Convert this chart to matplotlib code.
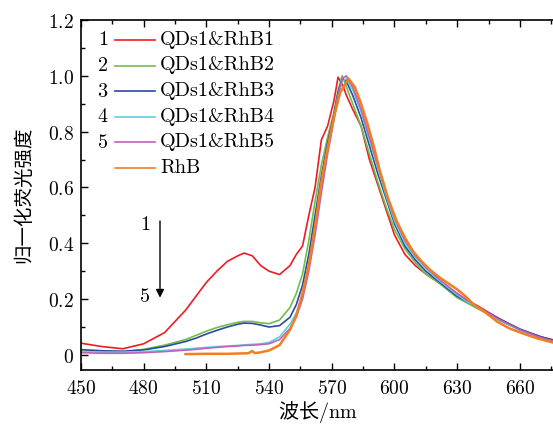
import matplotlib
matplotlib.use('Agg')
import matplotlib.pyplot as plt
from matplotlib.ticker import MultipleLocator, FuncFormatter

plt.rcParams['mathtext.fontset'] = 'cm'
plt.rcParams['font.family'] = ['Noto Sans CJK SC', 'DejaVu Sans']

# 波长 (nm), samples 1-5
wl = [450, 460, 470, 480, 490, 500, 505, 510, 515, 520, 525, 528, 532, 536, 540,
      545, 550, 553, 556, 559, 562, 565, 568, 571, 573, 575, 577, 580, 584, 588,
      592, 596, 600, 605, 610, 615, 620, 625, 630, 635, 640, 650, 660, 670, 677]

rhb1 = [0.042, 0.030, 0.022, 0.040, 0.080, 0.160, 0.210, 0.260, 0.300, 0.335, 0.355,
        0.365, 0.355, 0.320, 0.300, 0.288, 0.320, 0.360, 0.390, 0.500, 0.600, 0.770,
        0.820, 0.910, 0.995, 0.970, 0.930, 0.880, 0.820, 0.700, 0.610, 0.520, 0.430,
        0.360, 0.320, 0.290, 0.265, 0.245, 0.220, 0.195, 0.175, 0.130, 0.090, 0.065, 0.052]
rhb2 = [0.016, 0.012, 0.012, 0.020, 0.035, 0.055, 0.070, 0.085, 0.098, 0.108, 0.117,
        0.120, 0.120, 0.115, 0.112, 0.125, 0.170, 0.220, 0.290, 0.410, 0.550, 0.680,
        0.780, 0.870, 0.950, 1.000, 0.960, 0.900, 0.820, 0.720, 0.620, 0.530, 0.450,
        0.380, 0.330, 0.290, 0.265, 0.235, 0.205, 0.185, 0.165, 0.125, 0.090, 0.062, 0.048]
rhb3 = [0.019, 0.015, 0.013, 0.018, 0.030, 0.048, 0.060, 0.075, 0.088, 0.100, 0.110,
        0.114, 0.113, 0.107, 0.100, 0.105, 0.135, 0.180, 0.250, 0.360, 0.500, 0.640,
        0.760, 0.860, 0.940, 0.990, 0.980, 0.930, 0.850, 0.750, 0.650, 0.560, 0.470,
        0.390, 0.340, 0.300, 0.270, 0.240, 0.210, 0.190, 0.170, 0.130, 0.093, 0.065, 0.050]
rhb4 = [0.012, 0.010, 0.010, 0.012, 0.016, 0.021, 0.024, 0.027, 0.030, 0.032, 0.034,
        0.036, 0.038, 0.040, 0.045, 0.065, 0.110, 0.150, 0.220, 0.320, 0.450, 0.600,
        0.740, 0.850, 0.930, 0.980, 0.990, 0.950, 0.870, 0.770, 0.670, 0.570, 0.480,
        0.400, 0.350, 0.310, 0.275, 0.245, 0.215, 0.190, 0.170, 0.125, 0.088, 0.060, 0.045]
rhb5 = [0.008, 0.006, 0.006, 0.008, 0.012, 0.017, 0.020, 0.024, 0.027, 0.030, 0.032,
        0.034, 0.035, 0.037, 0.040, 0.055, 0.095, 0.135, 0.200, 0.300, 0.430, 0.580,
        0.720, 0.840, 0.930, 0.990, 1.000, 0.960, 0.880, 0.780, 0.680, 0.580, 0.490,
        0.410, 0.355, 0.315, 0.280, 0.250, 0.220, 0.195, 0.172, 0.127, 0.090, 0.062, 0.048]

# RhB alone
wl_rhb = [500, 510, 520, 530, 532, 533, 535, 540, 545, 550, 553, 556, 559, 562, 565,
          568, 571, 574, 576, 578, 581, 584, 587, 590, 593, 597, 601, 605, 609, 613,
          617, 622, 626, 630, 634, 638, 643, 649, 655, 661, 668, 677]
rhb = [0.003, 0.004, 0.004, 0.006, 0.014, 0.007, 0.008, 0.016, 0.035, 0.090, 0.140,
       0.220, 0.320, 0.460, 0.620, 0.740, 0.850, 0.940, 0.965, 0.990, 0.960, 0.900,
       0.830, 0.750, 0.660, 0.560, 0.480, 0.420, 0.370, 0.335, 0.305, 0.275, 0.255,
       0.235, 0.210, 0.180, 0.155, 0.120, 0.095, 0.078, 0.060, 0.042]

labels = ['QDs1&RhB1', 'QDs1&RhB2', 'QDs1&RhB3', 'QDs1&RhB4', 'QDs1&RhB5', 'RhB']
numbers = ['1', '2', '3', '4', '5', '']
colors = ['#ec1c24', '#6dbf4b', '#2b4aa0', '#5dd0e0', '#c060bc', '#f47d20']

fig = plt.figure(figsize=(5.53, 4.26), dpi=100)
ax = fig.add_axes([81 / 553, 56 / 426, 474 / 553, 350 / 426])

series = [rhb1, rhb2, rhb3, rhb4, rhb5]
for i, s in enumerate(series):
    ax.plot(wl, s, color=colors[i], lw=1.2)
ax.plot(wl_rhb, rhb, color=colors[5], lw=1.8)

ax.set_xlim(450, 676.8)
ax.set_ylim(-0.054, 1.2)
ax.xaxis.set_major_locator(MultipleLocator(30))
ax.xaxis.set_minor_locator(MultipleLocator(15))
ax.yaxis.set_major_locator(MultipleLocator(0.2))
ax.yaxis.set_minor_locator(MultipleLocator(0.1))
ax.xaxis.set_major_formatter(FuncFormatter(lambda v, p: '$%d$' % round(v)))
ax.yaxis.set_major_formatter(
    FuncFormatter(lambda v, p: '$0$' if abs(v) < 1e-9 else '$%.1f$' % v))
ax.tick_params(which='both', direction='in', top=True, right=False, labelsize=14,
               width=1.0)
ax.tick_params(which='major', length=5)
ax.tick_params(which='minor', length=3)
ax.tick_params(axis='x', pad=6)
ax.tick_params(axis='y', pad=5)
for sp in ax.spines.values():
    sp.set_linewidth(1.2)

ax.set_xlabel('波长$/\\mathrm{nm}$', fontsize=14.5, labelpad=0)
ax.set_ylabel('归一化荧光强度', fontsize=14, labelpad=10)

# legend drawn by hand: number, short line, label
row_y = [0.943, 0.870, 0.797, 0.724, 0.651, 0.578]
for i in range(6):
    y = row_y[i]
    if numbers[i]:
        ax.text(0.046, y, '$%s$' % numbers[i], transform=ax.transAxes,
                ha='center', va='center', fontsize=14.5)
    ax.plot([0.072, 0.156], [y, y], color=colors[i], lw=1.2,
            transform=ax.transAxes)
    ax.text(0.167, y, labels[i], family='cmr10',
            transform=ax.transAxes, ha='left', va='center', fontsize=14.5)

# arrow 1 -> 5
ax.annotate('', xy=(487.8, 0.195), xytext=(487.8, 0.49),
            arrowprops=dict(arrowstyle='-|>', color='black', lw=1.0,
                            mutation_scale=12))
ax.text(480.6, 0.466, '$1$', ha='center', va='center', fontsize=14.5)
ax.text(480.6, 0.208, '$5$', ha='center', va='center', fontsize=14.5)

fig.savefig('out.png', dpi=100)
